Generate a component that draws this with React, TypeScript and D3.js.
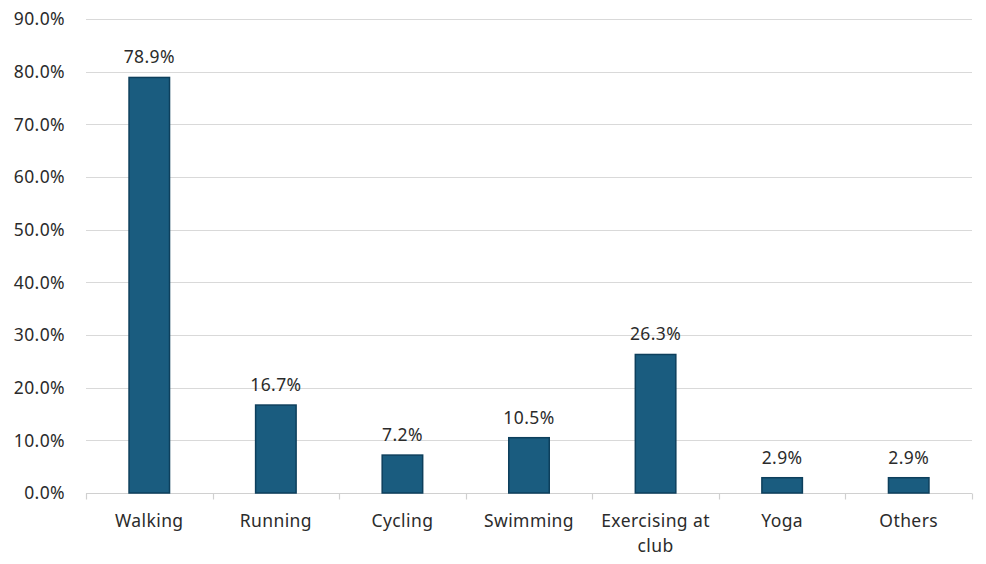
import React, { useEffect, useRef } from 'react';
import * as d3 from 'd3';

const categories = ['Walking', 'Running', 'Cycling', 'Swimming', 'Exercising at club', 'Yoga', 'Others'];
const values = [78.9, 16.7, 7.2, 10.5, 26.3, 2.9, 2.9];
const yTicks = [0, 10, 20, 30, 40, 50, 60, 70, 80, 90];

const W = 986;
const H = 564;
const margin = { top: 19, right: 14, bottom: 70, left: 86 };

const App: React.FC = () => {
  const ref = useRef<SVGSVGElement | null>(null);

  useEffect(() => {
    const svg = d3.select(ref.current);
    svg.selectAll('*').remove();

    const font = '"Noto Sans", "Open Sans", sans-serif';
    const textColor = '#2b2b2b';
    const fs = '17.5px';
    const ls = '0.4px';

    const x = d3.scaleBand<string>()
      .domain(categories)
      .range([margin.left, W - margin.right])
      .paddingInner(0.68)
      .paddingOuter(0.34);

    const y = d3.scaleLinear()
      .domain([0, 90])
      .range([H - margin.bottom - 1, margin.top]);

    // gridlines
    svg.append('g')
      .selectAll('line')
      .data(yTicks.filter(t => t > 0))
      .enter()
      .append('line')
      .attr('x1', margin.left)
      .attr('x2', W - margin.right)
      .attr('y1', d => Math.round(y(d)) + 0.5)
      .attr('y2', d => Math.round(y(d)) + 0.5)
      .attr('stroke', '#d9d9d9')
      .attr('stroke-width', 1.2);

    // y labels
    svg.append('g')
      .selectAll('text')
      .data(yTicks)
      .enter()
      .append('text')
      .attr('x', 65)
      .attr('y', d => y(d))
      .attr('dy', '0.36em')
      .attr('text-anchor', 'end')
      .attr('font-family', font)
      .attr('font-size', fs)
      .attr('letter-spacing', ls)
      .attr('fill', textColor)
      .text(d => `${d.toFixed(1)}%`);

    // x axis line + tick marks
    const y0 = Math.round(y(0)) + 0.5;
    svg.append('line')
      .attr('x1', margin.left)
      .attr('x2', W - margin.right)
      .attr('y1', y0)
      .attr('y2', y0)
      .attr('stroke', '#d0d0d0')
      .attr('stroke-width', 1.2);

    const step = x.step();
    const boundaries = d3.range(categories.length + 1).map(i => margin.left + i * step);
    svg.append('g')
      .selectAll('line')
      .data(boundaries)
      .enter()
      .append('line')
      .attr('x1', d => Math.round(d) + 0.5)
      .attr('x2', d => Math.round(d) + 0.5)
      .attr('y1', y0)
      .attr('y2', y0 + 6)
      .attr('stroke', '#d0d0d0')
      .attr('stroke-width', 1.2);

    // bars
    svg.append('g')
      .selectAll('rect')
      .data(values)
      .enter()
      .append('rect')
      .attr('x', (d, i) => x(categories[i])!)
      .attr('y', d => y(d))
      .attr('width', x.bandwidth())
      .attr('height', d => y(0) - y(d))
      .attr('fill', '#1a5c7f')
      .attr('stroke', '#0d3f5c')
      .attr('stroke-width', 1.5);

    // value labels
    svg.append('g')
      .selectAll('text')
      .data(values)
      .enter()
      .append('text')
      .attr('x', (d, i) => x(categories[i])! + x.bandwidth() / 2)
      .attr('y', d => y(d) - 14)
      .attr('text-anchor', 'middle')
      .attr('font-family', font)
      .attr('font-size', fs)
      .attr('letter-spacing', ls)
      .attr('fill', textColor)
      .text(d => `${d.toFixed(1)}%`);

    // category labels (wrap)
    const labels = svg.append('g');
    categories.forEach(c => {
      const cx = x(c)! + x.bandwidth() / 2;
      const lines = c === 'Exercising at club' ? ['Exercising at', 'club'] : [c];
      lines.forEach((ln, j) => {
        labels.append('text')
          .attr('x', cx)
          .attr('y', 527 + j * 25)
          .attr('text-anchor', 'middle')
          .attr('font-family', font)
          .attr('font-size', fs)
          .attr('letter-spacing', ls)
          .attr('fill', textColor)
          .text(ln);
      });
    });
  }, []);

  return (
    <svg
      ref={ref}
      width={W}
      height={H}
      style={{ position: 'absolute', left: 0, top: 0, background: '#ffffff' }}
    />
  );
};

export default App;
